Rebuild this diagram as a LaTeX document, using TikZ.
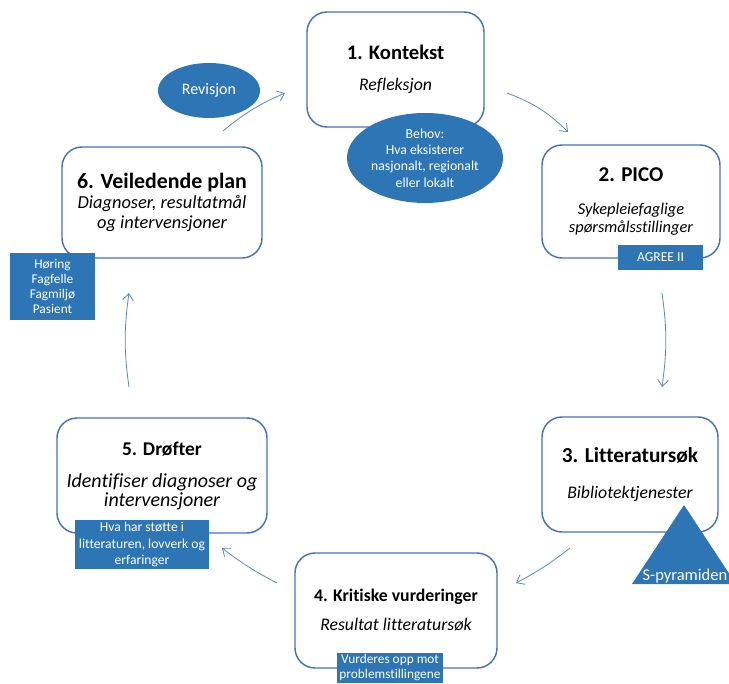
\documentclass[tikz,border=0pt]{standalone}
\usepackage{fontspec}
\setmainfont{Carlito}[Ligatures=NoCommon]
\usetikzlibrary{shapes.geometric,arrows.meta}
\definecolor{boxline}{HTML}{4472C4}
\definecolor{tagblue}{HTML}{2E75B6}
\definecolor{flowline}{HTML}{5B86D6}
\newcommand{\fs}[2]{\fontsize{#1}{#2}\selectfont}
\newcommand{\steptitle}[2]{{\fontsize{#1}{#1}\selectfont\upshape\bfseries #2}}
\tikzset{
	stepbox/.style={draw=boxline, line width=1.1pt, rounded corners=15pt, fill=white, align=center, inner sep=0pt},
	tag/.style={fill=tagblue, text=white, align=center, inner sep=0pt},
	tagoval/.style={tag, ellipse},
	flow/.style={draw=flowline, line width=0.6pt, -{Straight Barb[length=5pt,width=8pt]}},
}

\begin{document}
\begin{tikzpicture}[x=0.75pt, y=-0.75pt]
		\clip (0,0) rectangle (729,684);

		% the six steps
		\node (kontekst)[stepbox, minimum width=132.75pt, minimum height=86.25pt, font=\fs{13.3}{15}\itshape] at (395.5,69.5)
			{\steptitle{15.5}{1. Kontekst}\\[8.25pt]Refleksjon};
		\node (pico)[stepbox, minimum width=133.5pt, minimum height=84.75pt, font=\fs{12.3}{13.5}\itshape] at (631,201.5)
			{\steptitle{15.8}{2. PICO}\\[11.25pt]Sykepleiefaglige\\spørsmålsstillinger};
		\node (sok)[stepbox, minimum width=132pt, minimum height=86.25pt, font=\fs{13.3}{15}\itshape] at (630,474.5)
			{\steptitle{16}{3. Litteratursøk}\\[12pt]Bibliotektjenester};
		\node (kritisk)[stepbox, minimum width=151.5pt, minimum height=86.25pt, font=\fs{13.3}{15}\itshape] at (396,610.5)
			{\steptitle{13.3}{4. Kritiske vurderinger}\\[6.75pt]Resultat litteratursøk};
		\node (drofter)[stepbox, minimum width=157.5pt, minimum height=86.25pt, font=\fs{15}{14.25}\itshape] at (162,475.5)
			{\steptitle{14.6}{5. Drøfter}\\[9.75pt]Identifiser diagnoser og\\intervensjoner};
		\node (plan)[stepbox, minimum width=150pt, minimum height=83.25pt, font=\fs{13.8}{15}\itshape] at (162,202.5)
			{\steptitle{16.4}{6. Veiledende plan}\\Diagnoser, resultatmål\\og intervensjoner};

		% blue notes
		\node (behov)[tagoval, minimum width=117pt, minimum height=67.5pt, font=\fs{10.3}{12.2}] at (425,158)
			{Behov:\\Hva eksisterer\\nasjonalt, regionalt\\eller lokalt};
		\node (revisjon)[tagoval, minimum width=76.5pt, minimum height=41.25pt, font=\fs{12}{14}] at (209,90.5) {Revisjon};
		\node (agree)[tag, minimum width=63.75pt, minimum height=18.75pt, font=\fs{10.2}{12}] at (660.5,257.5) {AGREE II};
		\node (horing)[tag, minimum width=63.75pt, minimum height=50.25pt, font=\fs{10}{11.25}] at (52.5,286.5)
			{Høring\\Fagfelle\\Fagmiljø\\Pasient};
		\node (stotte)[tag, minimum width=100.5pt, minimum height=36.75pt, font=\fs{10.2}{12.5}] at (142,544.5)
			{Hva har støtte i\\litteraturen, lovverk og\\erfaringer};
		\node (vurderes)[tag, minimum width=79.5pt, minimum height=22.5pt, font=\fs{10}{11.25}] at (390,668)
			{Vurderes opp mot\\problemstillingene};

		% pyramid
		\coordinate (topp) at (684,505);
		\coordinate (venstre) at (632,584);
		\coordinate (hoyre) at (736,584);
		\fill[tagblue] (topp) -- (venstre) -- (hoyre) -- cycle;
		\node (pyramide)[text=white, font=\fs{12.4}{14}, inner sep=0pt] at (685,576) {S-pyramiden};

		% arrows between the steps
		\coordinate (p1s) at (507,93);   \coordinate (p1e) at (568,132);
		\coordinate (p2s) at (662,293);  \coordinate (p2e) at (662,387);
		\coordinate (p3s) at (570,548);  \coordinate (p3e) at (516,583);
		\coordinate (p4s) at (277,583);  \coordinate (p4e) at (222,548);
		\coordinate (p5s) at (129,387);  \coordinate (p5e) at (129,293);
		\coordinate (p6s) at (223,131);  \coordinate (p6e) at (285,93);

		\draw[flow] (p1s) to[bend left=12] (p1e);
		\draw[flow] (p2s) to[bend left=8] (p2e);
		\draw[flow] (p3s) to[bend left=5] (p3e);
		\draw[flow] (p4s) to[bend left=5] (p4e);
		\draw[flow] (p5s) to[bend left=8] (p5e);
		\draw[flow] (p6s) to[bend left=8] (p6e);
	\end{tikzpicture}
\end{document}
